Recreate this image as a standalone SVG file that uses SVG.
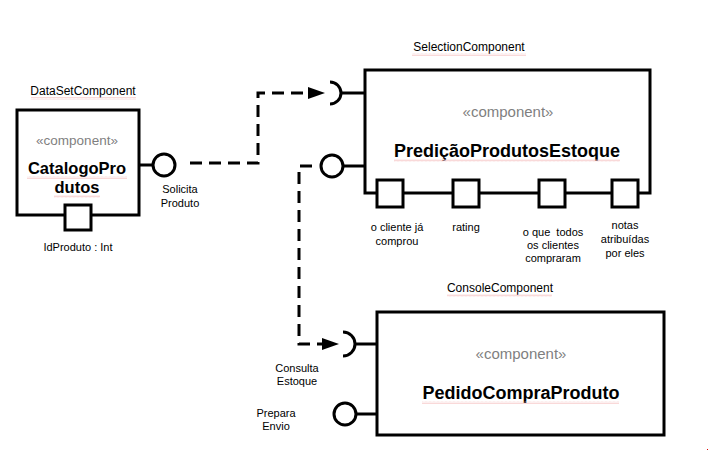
<svg xmlns="http://www.w3.org/2000/svg" width="709" height="452" viewBox="0 0 709 452">
<style>
.box{fill:#fff;stroke:#000;stroke-width:3}
.ln{fill:none;stroke:#000;stroke-width:3}
.dash{fill:none;stroke:#000;stroke-width:3;stroke-dasharray:12,7}
.head{fill:#000}
.t{font-family:"Liberation Sans",Arial,sans-serif;fill:#000;text-anchor:middle}
.name{font-size:12px}
.ster{font-size:15px;fill:#7f7f7f}
.big{font-size:18px;font-weight:bold}
.lbl{font-size:11px}
.sq{fill:url(#wave)}
</style>
<defs>
<pattern id="wave" width="4" height="3" patternUnits="userSpaceOnUse">
<path d="M0,2.5 L1,0.5 L2,2.5 L3,0.5 L4,2.5" fill="none" stroke="#f5c0c0" stroke-width="0.6"/>
</pattern>
</defs>
<rect width="709" height="452" fill="#fff"/>

<g id="connectors">
<path class="dash" d="M190,163 H258 V93 H308"/>
<polygon class="head" points="308,87 325,93 308,99"/>
<path class="dash" d="M312,166 H299 V344 H322"/>
<polygon class="head" points="322,338 339,344 322,350"/>
</g>

<g id="DataSetComponent">
<text class="t name" x="83" y="95">DataSetComponent</text>
<rect class="sq" x="31" y="97" width="105" height="3"/>
<rect class="box" x="17" y="110" width="122" height="105"/>
<text class="t ster" x="77" y="145" style="font-size:13.5px">«component»</text>
<text class="t big" x="77" y="174" style="font-size:16.5px">CatalogoPro</text>
<text class="t big" x="77" y="193" style="font-size:16.5px">dutos</text>
<rect class="sq" x="27" y="176" width="100" height="3"/>
<rect class="sq" x="54" y="195" width="46" height="3"/>
<rect class="box" x="65" y="205" width="26" height="25"/>
<text class="t lbl" x="78" y="251">IdProduto : Int</text>
<line class="ln" x1="139" y1="165" x2="153" y2="165"/>
<circle class="ln" cx="164" cy="165" r="11" fill="#fff"/>
<text class="t lbl" x="180" y="193">Solicita</text>
<text class="t lbl" x="180" y="207">Produto</text>
</g>

<g id="SelectionComponent">
<text class="t name" x="469" y="51">SelectionComponent</text>
<rect class="sq" x="412" y="53" width="114" height="3"/>
<line class="ln" x1="341" y1="93" x2="365" y2="93"/>
<path class="ln" d="M330,82 A11,11 0 0 1 330,104"/>
<line class="ln" x1="343" y1="166" x2="365" y2="166"/>
<circle class="ln" cx="332" cy="166" r="11" fill="#fff"/>
<rect class="box" x="365" y="70" width="285" height="123"/>
<text class="t ster" x="508" y="117">«component»</text>
<text class="t big" x="507" y="157">PrediçãoProdutosEstoque</text>
<rect class="sq" x="394" y="159" width="226" height="3"/>
<rect class="box" x="377" y="180" width="26" height="27"/>
<rect class="box" x="453" y="180" width="26" height="27"/>
<rect class="box" x="539" y="180" width="26" height="27"/>
<rect class="box" x="612" y="180" width="26" height="27"/>
<text class="t lbl" x="397" y="231">o cliente já</text>
<text class="t lbl" x="397" y="245">comprou</text>
<text class="t lbl" x="466" y="231">rating</text>
<text class="t lbl" x="553" y="236" xml:space="preserve">o que  todos</text>
<text class="t lbl" x="553" y="249">os clientes</text>
<text class="t lbl" x="553" y="262">compraram</text>
<text class="t lbl" x="625" y="229">notas</text>
<text class="t lbl" x="625" y="243">atribuídas</text>
<text class="t lbl" x="625" y="257">por eles</text>
</g>

<g id="ConsoleComponent">
<text class="t name" x="500" y="292">ConsoleComponent</text>
<rect class="sq" x="447" y="294" width="105" height="3"/>
<line class="ln" x1="354" y1="344" x2="377" y2="344"/>
<path class="ln" d="M343,332 A12,12 0 0 1 343,356"/>
<line class="ln" x1="356" y1="414" x2="377" y2="414"/>
<circle class="ln" cx="345" cy="414" r="11" fill="#fff"/>
<rect class="box" x="377" y="312" width="287" height="123"/>
<text class="t ster" x="521" y="359">«component»</text>
<text class="t big" x="521" y="399">PedidoCompraProduto</text>
<rect class="sq" x="422" y="401" width="197" height="3"/>
<text class="t lbl" x="297" y="372">Consulta</text>
<text class="t lbl" x="297" y="385">Estoque</text>
<text class="t lbl" x="276" y="417">Prepara</text>
<text class="t lbl" x="276" y="430">Envio</text>
</g>
<rect x="707" y="449" width="1" height="1" fill="#e00000"/>
</svg>
